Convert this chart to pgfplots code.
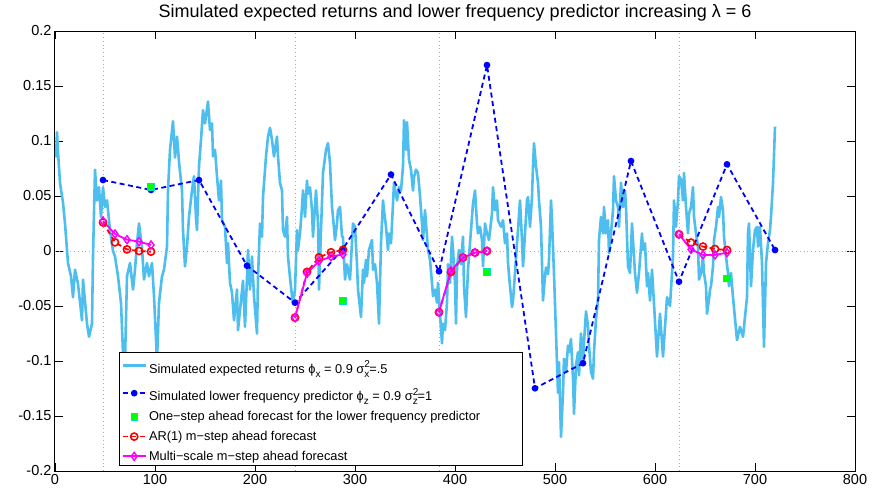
\documentclass[border=0pt]{standalone}
\usepackage{amsmath}
\usepackage{fontspec}
\setmainfont{Liberation Sans}
\usepackage{pgfplots}
\pgfplotsset{compat=1.18}
\definecolor{lblue}{RGB}{77,190,238}
\definecolor{gridpink}{RGB}{255,140,140}
\definecolor{mag}{RGB}{255,0,255}
\definecolor{sqgreen}{RGB}{0,255,0}
\definecolor{sqedge}{RGB}{0,220,200}
\newcommand{\scr}[1]{{\fontsize{10}{10}\selectfont #1}}
\newcommand{\supsub}[2]{\rlap{\raisebox{5.5pt}{\scr{#1}}}\raisebox{-4pt}{\scr{#2}}}
\newcommand{\sub}[1]{\raisebox{-4pt}{\scr{#1}}}
\newcommand{\bigstrut}{\rule[-8pt]{0pt}{25pt}}
\begin{document}
\begin{tikzpicture}
\useasboundingbox (-55pt,-28pt) rectangle (832pt,471pt);
\begin{axis}[
  scale only axis, width=800pt, height=440pt,
  xmin=0, xmax=800, ymin=-0.2, ymax=0.2,
  xtick={0,100,...,800},
  xticklabels={0,100,200,300,400,500,600,700,800},
  ytick={-0.2,-0.15,-0.1,-0.05,0,0.05,0.1,0.15,0.2},
  yticklabels={-0.2,-0.15,-0.1,-0.05,0,0.05,0.1,0.15,0.2},
  tick align=inside, tick pos=both, major tick length=8pt,
  axis line style={line width=1pt},
  every tick/.style={black, line width=0.8pt},
  ticklabel style={font=\fontsize{14.5}{16}\selectfont},
  title={Simulated expected returns and lower frequency predictor increasing λ = 6},
  title style={font=\fontsize{18}{20}\selectfont, at={(0.5,1)}, anchor=base, yshift=8pt},
  unbounded coords=jump,
  legend cell align=left,
  legend style={at={(0.08,0.011)}, anchor=south west, draw=black, line width=0.8pt, fill=white,
    font=\fontsize{12.8}{14}\selectfont, inner sep=2pt, row sep=5pt},
  legend image code/.code={\draw[mark repeat=2,mark phase=2] plot coordinates {(0pt,0pt) (11.5pt,0pt) (23pt,0pt)};},
]
% reference dotted lines
\addplot[gridpink, line width=0.8pt, dash pattern=on 0.8pt off 3pt, forget plot] coordinates {(0,0) (800,0)};
\addplot[gridpink, line width=0.8pt, dash pattern=on 0.8pt off 3pt, forget plot] coordinates {(48,-0.2) (48,0.2)};
\addplot[gridpink, line width=0.8pt, dash pattern=on 0.8pt off 3pt, forget plot] coordinates {(240,-0.2) (240,0.2)};
\addplot[gridpink, line width=0.8pt, dash pattern=on 0.8pt off 3pt, forget plot] coordinates {(384,-0.2) (384,0.2)};
\addplot[gridpink, line width=0.8pt, dash pattern=on 0.8pt off 3pt, forget plot] coordinates {(624,-0.2) (624,0.2)};
% simulated expected returns
\addplot[lblue, line width=2.6pt, line join=round] coordinates {
(1,0.085) (2,0.108) (3,0.09) (5,0.062) (8,0.044) (10,0.025) (13,-0.011) (16,-0.023) (18,-0.042) (20,-0.017)
(23,-0.03) (27,-0.063) (28,-0.026) (32,-0.066) (34,-0.078) (37,-0.066) (38,-0.005) (40,0.074) (42,0.046) (44,0.058)
(46,0.031) (48,0.058) (50,0.040) (52,0.046) (55,0.019) (58,0.0) (60,-0.005) (63,-0.023) (66,-0.047) (68,-0.093)
(70,-0.1) (72,-0.023) (75,-0.011) (78,-0.035) (80,-0.017) (82,0.007) (84,0.025) (87,0.003) (89,-0.026) (92,-0.011)
(94,-0.023) (97,-0.011) (99,-0.041) (102,-0.1) (104,-0.047) (107,-0.023) (109,-0.017) (112,0.004) (113,0.055) (115,0.092)
(118,0.118) (120,0.085) (122,0.104) (124,0.081) (127,0.055) (128,0.019) (130,-0.014) (132,0.004) (134,0.031) (137,0.055)
(139,0.068) (141,0.03) (142,0.019) (144,0.077) (146,0.101) (148,0.128) (150,0.116) (153,0.136) (155,0.11) (157,0.116)
(158,0.086) (160,0.092) (162,0.068) (164,0.046) (166,0.064) (167,0.028) (170,0.022) (172,-0.011) (173,0.007) (175,-0.029)
(177,-0.038) (179,-0.063) (182,-0.035) (183,-0.072) (186,-0.045) (188,-0.027) (190,-0.069) (192,-0.024) (193,0.001) (195,-0.035)
(197,-0.005) (199,-0.041) (202,-0.075) (203,-0.024) (205,0.025) (207,0.013) (208,0.049) (211,0.086) (213,0.104) (215,0.112)
(217,0.101) (219,0.086) (222,0.104) (223,0.086) (225,0.062) (227,0.055) (228,0.019) (230,0.013) (232,0.031) (233,-0.005)
(235,-0.024) (237,-0.041) (238,-0.048) (240,-0.035) (242,0.019) (243,0.001) (245,0.016) (247,0.040) (248,0.055) (250,0.031)
(252,0.064) (253,0.052) (255,0.058) (257,0.037) (258,0.013) (261,0.055) (263,0.025) (264,-0.035) (266,0.019) (268,0.071)
(271,0.092) (273,0.098) (275,0.080) (277,0.040) (278,0.031) (280,0.010) (282,0.025) (283,0.037) (285,0.040) (287,0.013)
(288,0.013) (290,-0.026) (292,-0.012) (295,-0.026) (298,0.025) (300,0.022) (302,-0.012) (303,-0.035) (306,-0.060) (308,-0.017)
(309,-0.029) (311,-0.008) (312,-0.023) (314,0.001) (317,0.010) (318,-0.017) (320,-0.012) (322,-0.029) (324,-0.066) (326,0.007)
(328,0.046) (329,0.037) (331,0.022) (333,0.001) (334,0.016) (336,0.007) (338,0.043) (339,0.062) (342,0.046) (344,0.058)
(346,0.055) (348,0.077) (349,0.119) (351,0.092) (352,0.117) (354,0.083) (356,0.074) (358,0.055) (359,0.067) (361,0.074)
(363,0.071) (365,0.050) (367,0.025) (368,0.010) (370,0.037) (372,0.013) (373,0.001) (375,-0.008) (377,-0.029) (378,-0.041)
(380,-0.035) (382,-0.047) (383,-0.029) (385,-0.057) (387,-0.084) (388,-0.066) (390,-0.072) (392,-0.047) (393,-0.012) (395,-0.029)
(397,0.013) (398,0.001) (400,-0.029) (401,-0.066) (402,-0.015) (404,0.001) (406,-0.012) (408,0.013) (409,-0.032) (411,-0.060)
(413,-0.017) (416,0.019) (418,0.043) (420,0.055) (422,0.025) (423,0.016) (425,0.022) (427,0.010) (428,-0.014) (430,0.025)
(432,0.016) (434,0.010) (437,0.034) (438,0.058) (440,0.037) (442,0.046) (443,0.028) (446,0.022) (448,0.028) (450,0.007)
(452,0.016) (453,-0.011) (455,-0.032) (457,-0.051) (458,-0.045) (460,-0.020) (462,0.007) (463,0.019) (465,0.046) (467,0.010)
(468,-0.014) (470,0.016) (472,0.046) (473,0.049) (475,0.022) (477,0.049) (478,0.077) (479,0.098) (481,0.077) (483,0.062)
(484,0.046) (486,0.022) (488,-0.045) (489,-0.033) (491,-0.015) (493,-0.021) (494,-0.008) (496,0.046) (497,0.028) (499,-0.021)
(501,-0.075) (503,-0.129) (504,-0.101) (506,-0.169) (508,-0.129) (509,-0.098) (511,-0.110) (513,-0.086) (514,-0.092) (516,-0.080)
(518,-0.116) (519,-0.148) (521,-0.104) (523,-0.092) (524,-0.113) (526,-0.075) (528,-0.101) (529,-0.083) (531,-0.055) (533,-0.068)
(534,-0.086) (536,-0.110) (538,-0.116) (539,-0.092) (541,-0.062) (543,-0.044) (544,0.010) (546,0.031) (548,0.016) (549,0.040)
(551,0.016) (553,0.028) (554,-0.002) (556,0.016) (558,0.037) (559,0.068) (561,0.046) (563,0.040) (564,0.022) (566,0.062)
(568,0.040) (569,0.052) (570,0.055) (571,0.04) (573,-0.014) (575,-0.020) (577,0.025) (578,0.010) (580,-0.020) (582,-0.038)
(584,-0.020) (587,0.016) (588,0.001) (590,0.007) (592,-0.032) (593,-0.020) (595,-0.045) (597,-0.017) (598,-0.032) (602,-0.096)
(605,-0.057) (608,-0.096) (612,-0.042) (615,-0.050) (618,-0.005) (619,0.046) (621,0.022) (623,0.046) (624,0.068) (626,0.065)
(628,0.046) (629,0.071) (631,0.040) (633,0.016) (634,0.034) (636,0.040) (638,0.058) (639,0.031) (641,0.016) (643,0.004)
(644,-0.026) (646,-0.020) (648,-0.005) (649,-0.020) (651,-0.032) (652,-0.057) (654,-0.044) (655,-0.035) (656,-0.032) (658,-0.014)
(659,0.010) (661,0.022) (663,0.040) (664,0.031) (666,0.049) (668,0.037) (669,0.013) (671,-0.005) (673,-0.020) (674,-0.032)
(676,-0.020) (678,-0.042) (682,-0.081) (685,-0.069) (688,-0.078) (692,-0.042) (693,0.016) (694,0.025) (696,-0.032) (698,0.001)
(700,0.019) (702,0.022) (703,0.004) (705,0.022) (707,-0.011) (709,-0.087) (711,-0.011) (713,0.007) (715,0.019) (716,0.031)
(718,0.062) (720,0.113)
};
\addlegendentry{\bigstrut Simulated expected returns ϕ\sub{x} = 0.9 σ\supsub{2}{x}=.5}
% lower frequency predictor
\addplot[blue, line width=1.8pt, dash pattern=on 5pt off 3.5pt, mark=*, mark size=2.4pt, mark options={solid, fill=blue}] coordinates {
(48,0.0645) (96,0.0555) (144,0.0645) (192,-0.0134) (240,-0.047) (288,0.002) (336,0.0695) (384,-0.0185)
(432,0.169) (480,-0.1248) (528,-0.102) (576,0.0818) (624,-0.0279) (672,0.0788) (720,0.0009)
};
\addlegendentry{\bigstrut Simulated lower frequency predictor ϕ\sub{z} = 0.9 σ\supsub{2}{z}=1}
% one-step ahead
\addplot[only marks, mark=square*, mark size=3.3pt, mark options={fill=sqgreen, draw=sqedge, line width=0.6pt}] coordinates {
(96,0.0585) (288,-0.045) (432,-0.0188) (672,-0.0248)
};
\addlegendentry{One−step ahead forecast for the lower frequency predictor\kern38pt}
% AR(1)
\addplot[red, line width=1.8pt, dash pattern=on 5pt off 3.5pt, mark=o, mark size=3.6pt, mark options={solid, line width=1.6pt}] coordinates {
(48,0.026) (60,0.0079) (72,0.0015) (84,0.0) (96,-0.0006) (100,nan)
(240,-0.0606) (252,-0.019) (264,-0.0058) (276,-0.0012) (288,0.001) (300,nan)
(384,-0.0557) (396,-0.019) (408,-0.006) (420,-0.0015) (432,0.0) (440,nan)
(624,0.0152) (636,0.0076) (648,0.004) (660,0.0018) (672,0.0009)
};
\addlegendentry{AR(1) m−step ahead forecast}
% multi-scale
\addplot[mag, line width=1.8pt, mark=diamond, mark size=4pt, mark options={solid, line width=1.4pt}] coordinates {
(48,0.0273) (60,0.0155) (72,0.0103) (84,0.0085) (96,0.0055) (100,nan)
(240,-0.0606) (252,-0.0203) (264,-0.0091) (276,-0.0052) (288,-0.003) (300,nan)
(384,-0.0557) (396,-0.0179) (408,-0.006) (420,-0.0015) (432,0.0) (440,nan)
(624,0.0152) (636,0.0015) (648,-0.0036) (660,-0.0036) (672,-0.0015)
};
\addlegendentry{Multi−scale m−step ahead forecast}
\end{axis}
\end{tikzpicture}
\end{document}
